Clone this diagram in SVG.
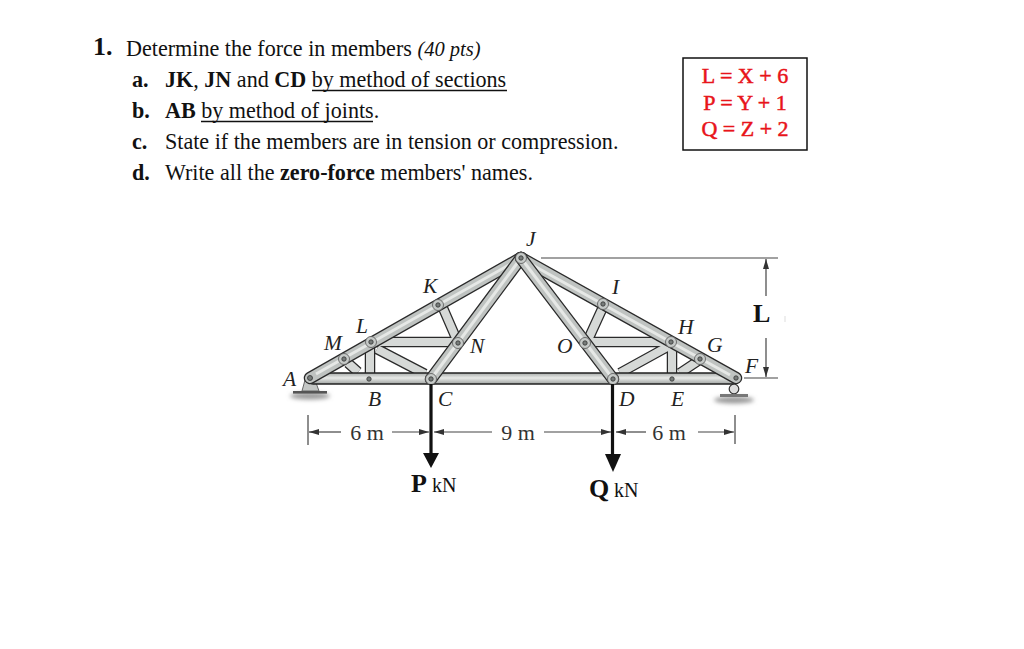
<svg xmlns="http://www.w3.org/2000/svg" width="1024" height="649" viewBox="0 0 1024 649">
<style>
.t{font-family:"Liberation Serif","Times New Roman",serif;fill:#111;font-size:22.1px}
.b{font-weight:bold}
.l{font-family:"Liberation Serif","Times New Roman",serif;font-style:italic;font-size:21.5px;fill:#222}
.r{font-family:"Liberation Serif","Times New Roman",serif;fill:#e8141a;stroke:#e8141a;stroke-width:.5;font-size:22px;text-anchor:middle}
.dim{font-family:"Liberation Serif","Times New Roman",serif;fill:#333;font-size:22px;text-anchor:middle}
.o{stroke:#2a2a2a;fill:none}
.chord-o{stroke-width:12.5;stroke-linecap:round}
.chord-i{stroke:#bfc3c1;stroke-width:10;stroke-linecap:round;fill:none}
.web-o{stroke-width:10.5;stroke-linecap:butt}
.web-i{stroke:#d6d9d7;stroke-width:8;fill:none}
.hi{stroke:#e6e8e6;stroke-width:3;fill:none}
.cap{fill:#c6cac8;stroke:#555;stroke-width:.8}
.pin{fill:#777c7a;stroke:#333;stroke-width:.8}
.d{stroke:#444;stroke-width:1.2;fill:none}
.load{stroke:#111;stroke-width:3.2;fill:none}
.ar{fill:#111;stroke:none}
.u{stroke:#111;stroke-width:1.3}
</style>
<defs>
<marker id="ah" viewBox="0 0 10 6" refX="10" refY="3" markerWidth="10" markerHeight="6" markerUnits="userSpaceOnUse" orient="auto"><path d="M0 0L10 3L0 6Z" fill="#333"/></marker>
<linearGradient id="bar" x1="0" y1="0" x2="0" y2="1"><stop offset="0" stop-color="#a8acaa"/><stop offset=".45" stop-color="#e8eae8"/><stop offset="1" stop-color="#a0a4a2"/></linearGradient>
<filter id="sh" x="-20%" y="-100%" width="140%" height="300%"><feGaussianBlur stdDeviation="2"/></filter>
</defs>
<rect width="1024" height="649" fill="#fff"/>

<g id="question">
<text class="t b" x="93" y="55" style="font-size:26px">1.</text>
<text class="t" x="126" y="56">Determine the force in members <tspan font-style="italic" style="font-size:20.500px">(40 pts)</tspan></text>
<text class="t b" x="132" y="87">a.</text>
<text class="t" x="165" y="87"><tspan class="b">JK</tspan>, <tspan class="b">JN</tspan> and <tspan class="b">CD</tspan> by method of sections</text>
<path class="u" d="M312 90.500H507"/>
<text class="t b" x="132" y="118">b.</text>
<text class="t" x="165" y="118"><tspan class="b">AB</tspan> by method of joints.</text>
<path class="u" d="M201 121.500H373"/>
<text class="t b" x="132" y="149">c.</text>
<text class="t" x="165" y="149">State if the members are in tension or compression.</text>
<text class="t b" x="132" y="180">d.</text>
<text class="t" x="165" y="180">Write all the <tspan class="b">zero-force</tspan> members' names.</text>
</g>

<g id="given">
<rect x="683" y="58" width="124" height="92" fill="#fff" stroke="#111" stroke-width="1.5"/>
<text class="r" x="745" y="83">L = X + 6</text>
<text class="r" x="745" y="110">P = Y + 1</text>
<text class="r" x="745" y="136">Q = Z + 2</text>
</g>

<g id="supports">
<ellipse cx="310" cy="396" rx="20" ry="3.500" fill="#999" filter="url(#sh)"/>
<ellipse cx="734" cy="400" rx="20" ry="3.500" fill="#999" filter="url(#sh)"/>
<path d="M305 380L302 391H319L315 380Z" fill="#c4c7c5" stroke="#666"/>
<rect x="293" y="391" width="34" height="2.600" fill="#555"/>
<circle cx="734" cy="389" r="4.800" fill="#ddd" stroke="#333" stroke-width="1.200"/>
<rect x="720" y="394" width="28" height="3" fill="#777"/>
</g>

<g id="connectors">
<g id="web-members">
<path class="o web-o" d="M348 363L358 372M370 345V374M377 349L425 374M443 308L456 338M372 342H455M587 342L603 307M588 342H668M620 373L669 346M672 345V374M680 373L698 361"/>
<path class="web-i" d="M348 363L358 372M370 345V374M377 349L425 374M443 308L456 338M372 342H455M587 342L603 307M588 342H668M620 373L669 346M672 345V374M680 373L698 361"/>
</g>
<g id="bottom-chord">
<rect x="309" y="373" width="427" height="11" rx="4" fill="url(#bar)" stroke="#222" stroke-width="1.300"/>
</g>
<g id="top-chords">
<path class="o chord-o" d="M310 378L521 258"/><path class="chord-i" d="M310 378L521 258"/><path class="hi" d="M316 374L516 261"/>
<path class="o chord-o" d="M736 378L521 258"/><path class="chord-i" d="M736 378L521 258"/><path class="hi" d="M730 375L527 262"/>
</g>
<g id="diagonals">
<path class="o chord-o" d="M431 379L521 258"/><path class="chord-i" d="M431 379L521 258"/><path class="hi" d="M434 375L518 262"/>
<path class="o chord-o" d="M613 379L521 258"/><path class="chord-i" d="M613 379L521 258"/><path class="hi" d="M610 375L524 262"/>
</g>
</g>

<g id="joints">
<g id="A"><circle class="pin" cx="310" cy="378" r="2.500"/></g>
<g id="M"><circle class="cap" cx="344" cy="359" r="5.500"/><circle class="pin" cx="344" cy="359" r="2.200"/></g>
<g id="L"><circle class="cap" cx="371" cy="342" r="5.500"/><circle class="pin" cx="371" cy="342" r="2.200"/></g>
<g id="K"><circle class="cap" cx="438" cy="305" r="5.500"/><circle class="pin" cx="438" cy="305" r="2.200"/></g>
<g id="J"><circle class="cap" cx="521" cy="258" r="5.500"/><circle class="pin" cx="521" cy="258" r="2.200"/></g>
<g id="I"><circle class="cap" cx="603" cy="304" r="5.500"/><circle class="pin" cx="603" cy="304" r="2.200"/></g>
<g id="H"><circle class="cap" cx="671" cy="342" r="5.500"/><circle class="pin" cx="671" cy="342" r="2.200"/></g>
<g id="G"><circle class="cap" cx="700" cy="359" r="5.500"/><circle class="pin" cx="700" cy="359" r="2.200"/></g>
<g id="F"><circle class="pin" cx="736" cy="378" r="2.200"/></g>
<g id="B"><circle class="pin" cx="369" cy="379" r="2.200"/></g>
<g id="C"><circle class="cap" cx="431" cy="379" r="5.500"/><circle class="pin" cx="431" cy="379" r="2.200"/></g>
<g id="D"><circle class="cap" cx="613" cy="379" r="5.500"/><circle class="pin" cx="613" cy="379" r="2.200"/></g>
<g id="E"><circle class="pin" cx="672" cy="379" r="2.200"/></g>
<g id="N"><circle class="cap" cx="458" cy="343" r="5.500"/><circle class="pin" cx="458" cy="343" r="2.200"/></g>
<g id="O"><circle class="cap" cx="585" cy="343" r="5.500"/><circle class="pin" cx="585" cy="343" r="2.200"/></g>
</g>

<g id="truss-labels">
<text class="l" x="526" y="246">J</text>
<text class="l" x="423" y="293">K</text>
<text class="l" x="612" y="294">I</text>
<text class="l" x="356" y="333">L</text>
<text class="l" x="324" y="350">M</text>
<text class="l" x="470" y="353">N</text>
<text class="l" x="557" y="353">O</text>
<text class="l" x="678" y="334">H</text>
<text class="l" x="707" y="352">G</text>
<text class="l" x="745" y="373">F</text>
<text class="l" x="283" y="386">A</text>
<text class="l" x="368" y="406">B</text>
<text class="l" x="438" y="406">C</text>
<text class="l" x="619" y="406">D</text>
<text class="l" x="671" y="406">E</text>
</g>

<g id="dimensions">
<path class="d" d="M541 258H778M744 378H778"/>
<path class="d" d="M766 296V259" marker-end="url(#ah)"/>
<path class="d" d="M766 338V377" marker-end="url(#ah)"/>
<path d="M785 316V322" stroke="#ddd" stroke-width="1"/>
<text x="753" y="322" style="font-family:'Liberation Serif',serif;font-weight:bold;font-size:26px;fill:#111">L</text>
<path class="d" d="M308 415V445M735 415V444"/>
<path class="d" d="M341 432H309" marker-end="url(#ah)"/>
<path class="d" d="M392 432H429" marker-end="url(#ah)"/>
<path class="d" d="M492 432H434" marker-end="url(#ah)"/>
<path class="d" d="M544 432H611" marker-end="url(#ah)"/>
<path class="d" d="M646 432H616" marker-end="url(#ah)"/>
<path class="d" d="M698 432H734" marker-end="url(#ah)"/>
<text class="dim" x="367" y="440">6 m</text>
<text class="dim" x="518" y="440">9 m</text>
<text class="dim" x="669" y="440">6 m</text>
</g>

<g id="loads">
<path class="load" d="M431 384V454M612.500 384V456"/>
<path class="ar" d="M423 453H439L431 468Z"/>
<path class="ar" d="M605 454H621L613 472Z"/>
<text x="411" y="492" style="font-family:'Liberation Serif',serif;font-size:26px;font-weight:bold;fill:#111">P</text>
<text x="432" y="492" style="font-family:'Liberation Serif',serif;font-size:20px;fill:#111">kN</text>
<text x="589" y="497" style="font-family:'Liberation Serif',serif;font-size:26px;font-weight:bold;fill:#111">Q</text>
<text x="614" y="497" style="font-family:'Liberation Serif',serif;font-size:20px;fill:#111">kN</text>
</g>
</svg>
